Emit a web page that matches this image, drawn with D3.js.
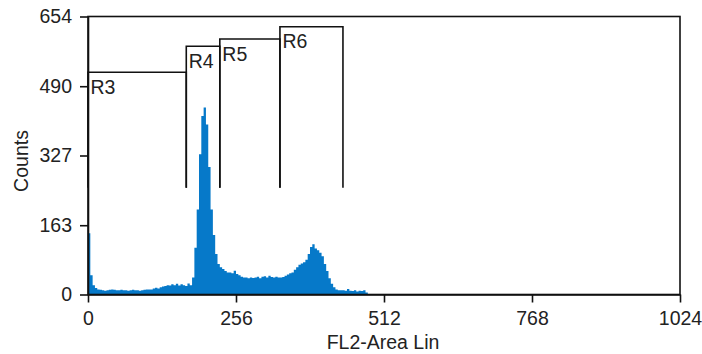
<!DOCTYPE html>
<html>
<head>
<meta charset="utf-8">
<script src="https://cdn.jsdelivr.net/npm/d3@7"></script>
<style>
  html, body { margin: 0; padding: 0; background: #fff; }
  svg { display: block; }
  text { font-family: Arial, "Liberation Sans", sans-serif; fill: #222; }
</style>
</head>
<body>
<svg id="chart" width="702" height="354"></svg>
<script>
// ---- Data ----
const binWidth = 4; // channels per histogram bin
const counts = [
  144, 45, 22, 15, 12, 11, 10, 9, 10, 11,
  12, 11, 10, 10, 11, 10, 10, 9, 10, 11,
  10, 10, 9, 10, 11, 12, 12, 12, 14, 16,
  14, 17, 19, 20, 22, 21, 24, 22, 25, 21,
  24, 22, 20, 26, 22, 40, 110, 200, 330, 420,
  440, 400, 300, 200, 140, 95, 72, 64, 60, 55,
  52, 52, 50, 56, 48, 45, 42, 40, 40, 38,
  40, 39, 40, 42, 38, 42, 43, 40, 44, 41,
  40, 42, 40, 40, 41, 44, 47, 50, 52, 58,
  64, 70, 73, 76, 82, 95, 112, 118, 108, 104,
  98, 90, 72, 55, 38, 25, 17, 12, 10, 10,
  10, 9, 13, 9, 8, 10, 7, 9, 8, 10,
  5
];
const xTicks = [0, 256, 512, 768, 1024];
const yTicks = [0, 163, 327, 490, 654];
const regionNames = ["R3", "R4", "R5", "R6"];
const regionStart = [0, 170, 228, 332];
const regionEnd = [170, 228, 332, 441];
const regionLevel = [523, 584, 601, 630];
const regionBottom = 251;
const xTitle = "FL2-Area Lin";
const yTitle = "Counts";

// ---- Layout ----
const mLeft = 88, mRight = 680, mTop = 16.5, mBottom = 294.5;
const svg = d3.select("#chart");
const x = d3.scaleLinear().domain([0, 1024]).range([mLeft, mRight]);
const y = d3.scaleLinear().domain([0, 654]).range([mBottom, mTop]);

// Histogram as stepped area
const pts = counts.map((c, i) => [i * binWidth, c]);
pts.push([counts.length * binWidth, counts[counts.length - 1]]);
const area = d3.area()
  .x(d => x(d[0]))
  .y0(y(0))
  .y1(d => y(d[1]))
  .curve(d3.curveStepAfter);
svg.append("path")
  .datum(pts)
  .attr("d", area)
  .attr("fill", "#0679c9");

// Region markers
const rg = svg.append("g").attr("fill", "none").attr("stroke", "#111").attr("stroke-width", 1.6);
regionNames.forEach((name, i) => {
  const x0 = x(regionStart[i]), x1 = x(regionEnd[i]);
  const yl = y(regionLevel[i]), yb = y(regionBottom);
  rg.append("path")
    .attr("d", `M${x0},${yb}V${yl}H${x1}V${yb}`);
  svg.append("text")
    .attr("x", x0 + 2.5)
    .attr("y", yl + 21.5)
    .attr("font-size", 19.5)
    .text(name);
});

// Frame
svg.append("rect")
  .attr("x", mLeft).attr("y", mTop)
  .attr("width", mRight - mLeft).attr("height", mBottom - mTop)
  .attr("fill", "none").attr("stroke", "#111").attr("stroke-width", 1.6);

// Axes
const xAxis = d3.axisBottom(x).tickValues(xTicks).tickFormat(d3.format("d"))
  .tickSize(8).tickSizeOuter(0).tickPadding(9);
const yAxis = d3.axisLeft(y).tickValues(yTicks).tickFormat(d3.format("d"))
  .tickSize(8).tickSizeOuter(0).tickPadding(8);

const gx = svg.append("g").attr("transform", `translate(0,${mBottom})`).call(xAxis);
const gy = svg.append("g").attr("transform", `translate(${mLeft},0)`).call(yAxis);
[gx, gy].forEach(g => {
  g.select(".domain").attr("stroke", "#111").attr("stroke-width", 1.6);
  g.selectAll(".tick line").attr("stroke", "#111").attr("stroke-width", 1.6);
  g.selectAll(".tick text").attr("font-size", 19.5).attr("font-family", "Arial, 'Liberation Sans', sans-serif").attr("fill", "#222");
});

// Titles
svg.append("text")
  .attr("x", (mLeft + mRight) / 2 - 1)
  .attr("y", 349)
  .attr("text-anchor", "middle")
  .attr("font-size", 19.5)
  .text(xTitle);
svg.append("text")
  .attr("transform", "translate(28,161) rotate(-90)")
  .attr("text-anchor", "middle")
  .attr("font-size", 19.5)
  .text(yTitle);
</script>
</body>
</html>
